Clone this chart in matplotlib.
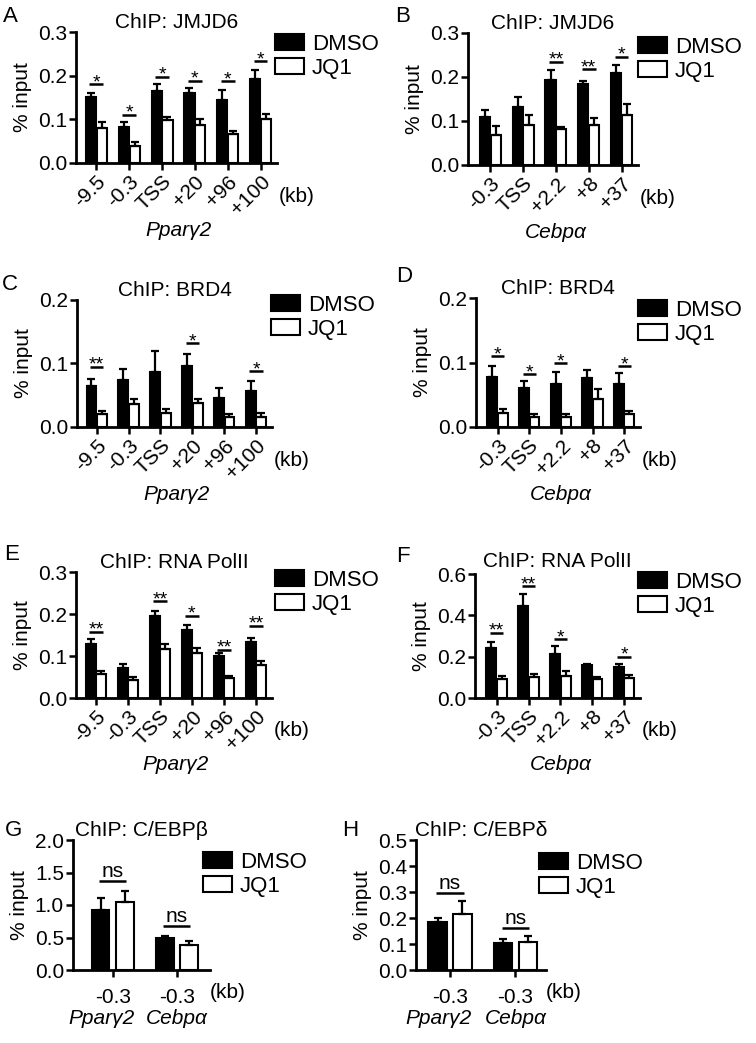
import numpy as np
import matplotlib
matplotlib.use("Agg")
import matplotlib.pyplot as plt
from matplotlib.patches import Patch
from matplotlib.ticker import FormatStrFormatter

plt.rcParams['font.family'] = ['Liberation Sans', 'DejaVu Sans']

W, H = 756, 1043

# --- data ---
# A: JMJD6 at Ppary2
a_labels = ['-9.5', '-0.3', 'TSS', '+20', '+96', '+100']
a_dmso = [0.151, 0.082, 0.164, 0.160, 0.144, 0.193]
a_dmso_err = [0.009, 0.011, 0.016, 0.012, 0.024, 0.019]
a_jq1 = [0.081, 0.040, 0.098, 0.087, 0.067, 0.100]
a_jq1_err = [0.014, 0.007, 0.007, 0.013, 0.007, 0.012]
a_sig = ['*', '*', '*', '*', '*', '*']
a_sig_y = [0.180, 0.110, 0.198, 0.188, 0.187, 0.233]

# B: JMJD6 at Cebpa
b_labels = ['-0.3', 'TSS', '+2.2', '+8', '+37']
b_dmso = [0.108, 0.131, 0.194, 0.185, 0.209]
b_dmso_err = [0.017, 0.023, 0.021, 0.006, 0.018]
b_jq1 = [0.069, 0.092, 0.081, 0.092, 0.114]
b_jq1_err = [0.019, 0.022, 0.006, 0.014, 0.024]
b_sig = ['', '', '**', '**', '*']
b_sig_y = [0, 0, 0.235, 0.218, 0.246]

# C: BRD4 at Ppary2
c_labels = a_labels
c_dmso = [0.064, 0.074, 0.087, 0.096, 0.046, 0.056]
c_dmso_err = [0.011, 0.017, 0.032, 0.019, 0.016, 0.016]
c_jq1 = [0.021, 0.036, 0.022, 0.038, 0.016, 0.015]
c_jq1_err = [0.004, 0.008, 0.006, 0.006, 0.004, 0.007]
c_sig = ['**', '', '', '*', '', '*']
c_sig_y = [0.095, 0, 0, 0.132, 0, 0.088]

# D: BRD4 at Cebpa
d_labels = b_labels
d_dmso = [0.077, 0.060, 0.066, 0.076, 0.066]
d_dmso_err = [0.018, 0.011, 0.020, 0.012, 0.018]
d_jq1 = [0.022, 0.016, 0.016, 0.043, 0.020]
d_jq1_err = [0.006, 0.004, 0.004, 0.016, 0.005]
d_sig = ['*', '*', '*', '', '*']
d_sig_y = [0.110, 0.082, 0.099, 0, 0.094]

# E: RNA PolII at Ppary2
e_labels = a_labels
e_dmso = [0.128, 0.072, 0.196, 0.163, 0.100, 0.133]
e_dmso_err = [0.012, 0.008, 0.012, 0.011, 0.008, 0.010]
e_jq1 = [0.058, 0.043, 0.117, 0.108, 0.048, 0.078]
e_jq1_err = [0.006, 0.008, 0.012, 0.010, 0.004, 0.010]
e_sig = ['**', '', '**', '*', '**', '**']
e_sig_y = [0.158, 0, 0.230, 0.196, 0.115, 0.172]

# F: RNA PolII at Cebpa
f_labels = b_labels
f_dmso = [0.240, 0.446, 0.215, 0.160, 0.150]
f_dmso_err = [0.032, 0.057, 0.035, 0.005, 0.015]
f_jq1 = [0.090, 0.100, 0.105, 0.090, 0.095]
f_jq1_err = [0.015, 0.018, 0.025, 0.012, 0.018]
f_sig = ['**', '**', '*', '', '*']
f_sig_y = [0.315, 0.540, 0.285, 0, 0.200]

# G: C/EBPb, H: C/EBPd at -0.3 kb of both genes
gh_labels = ['-0.3', '-0.3']
gh_genes = ['Pparγ2', 'Cebpα']
g_dmso = [0.93, 0.485]
g_dmso_err = [0.18, 0.04]
g_jq1 = [1.05, 0.38]
g_jq1_err = [0.16, 0.06]
g_sig = ['ns', 'ns']
g_sig_y = [1.37, 0.68]

h_dmso = [0.186, 0.105]
h_dmso_err = [0.014, 0.013]
h_jq1 = [0.215, 0.109]
h_jq1_err = [0.052, 0.022]
h_sig = ['ns', 'ns']
h_sig_y = [0.297, 0.163]

FS = 15
PT = 100 / 72.0  # px per point


def add_axes(l, t, r, b):
    return fig.add_axes([l / W, 1 - b / H, (r - l) / W, (b - t) / H])


def panel(rect, labels, dmso, dmso_err, jq1, jq1_err, sig, sig_y,
          ymax, ystep, title, letter, letter_xy, leg_xy, xlim,
          gene=None, off=0.165, width=0.31, rotate=True, title_pad=2):
    ax = add_axes(*rect)
    n = len(labels)
    x = np.arange(n)
    ax.bar(x - off, dmso, width, color='black', edgecolor='black', lw=1.5, zorder=2)
    ax.bar(x + off, jq1, width, color='white', edgecolor='black', lw=1.5, zorder=2)
    ax.errorbar(x - off, dmso, yerr=[np.zeros(n), dmso_err], fmt='none',
                ecolor='black', elinewidth=1.6, capsize=3, capthick=1.6, zorder=3)
    ax.errorbar(x + off, jq1, yerr=[np.zeros(n), jq1_err], fmt='none',
                ecolor='black', elinewidth=1.6, capsize=3, capthick=1.6, zorder=3)
    for xi, s, yy in zip(x, sig, sig_y):
        if not s:
            continue
        ax.plot([xi - 0.21, xi + 0.21], [yy, yy], color='black', lw=1.8,
                clip_on=False, solid_capstyle='butt')
        if s == 'ns':
            ax.annotate(s, xy=(xi, yy), xytext=(0, 4 / PT), textcoords='offset points',
                        ha='center', va='baseline', fontsize=FS)
        else:
            ax.annotate(s, xy=(xi, yy), xytext=(0, -3 / PT), textcoords='offset points',
                        ha='center', va='baseline', fontsize=14)
    ax.set_xlim(*xlim)
    ax.set_ylim(0, ymax)
    ax.set_yticks(np.arange(0, ymax + ystep / 2, ystep))
    ax.yaxis.set_major_formatter(FormatStrFormatter('%.1f'))
    ax.set_xticks(x)
    if rotate:
        ax.set_xticklabels(labels, rotation=45, ha='right', va='top',
                           rotation_mode='anchor')
    else:
        ax.set_xticklabels(labels)
    for sp in ['top', 'right']:
        ax.spines[sp].set_visible(False)
    for sp in ['left', 'bottom']:
        ax.spines[sp].set_linewidth(2)
    ax.tick_params(direction='out', length=5, width=1.8, labelsize=FS, pad=1.5)
    ax.set_ylabel('% input', fontsize=FS, labelpad=4)
    ax.set_title(title, fontsize=FS, pad=title_pad)
    fig.text(letter_xy[0] / W, 1 - letter_xy[1] / H, letter, fontsize=16,
             ha='center', va='center')
    handles = [Patch(facecolor='black', edgecolor='black', lw=1.5),
               Patch(facecolor='white', edgecolor='black', lw=1.5)]
    ax.legend(handles, ['DMSO', 'JQ1'], loc='upper left',
              bbox_to_anchor=(leg_xy[0] / W, 1 - leg_xy[1] / H),
              bbox_transform=fig.transFigure, frameon=False, fontsize=16,
              handlelength=1.3, handleheight=0.75, handletextpad=0.35,
              labelspacing=0.12, borderpad=0, borderaxespad=0)
    return ax


def below(ax, s, xd, dy_px, **kw):
    ax.annotate(s, xy=(xd, 0), xycoords=('data', 'axes fraction'),
                xytext=(0, -dy_px / PT), textcoords='offset points',
                ha=kw.pop('ha', 'center'), va='center', fontsize=FS,
                annotation_clip=False, **kw)


fig = plt.figure(figsize=(W / 100, H / 100), dpi=100)

xl6 = (-0.62, 5.5)
xl5 = (-0.68, 4.5)

ax = panel((76, 32, 277, 163), a_labels, a_dmso, a_dmso_err, a_jq1, a_jq1_err,
           a_sig, a_sig_y, 0.3, 0.1, 'ChIP: JMJD6', 'A', (10, 17), (275, 34), xl6)
below(ax, '(kb)', 5.55, 33, ha='left')
below(ax, 'Pparγ2', 2.5, 67, style='italic')

ax = panel((468, 33, 638, 165), b_labels, b_dmso, b_dmso_err, b_jq1, b_jq1_err,
           b_sig, b_sig_y, 0.3, 0.1, 'ChIP: JMJD6', 'B', (403, 16), (638, 37), xl5)
below(ax, '(kb)', 4.55, 33, ha='left')
below(ax, 'Cebpα', 2.0, 67, style='italic')

ax = panel((77, 300, 272, 427), c_labels, c_dmso, c_dmso_err, c_jq1, c_jq1_err,
           c_sig, c_sig_y, 0.2, 0.1, 'ChIP: BRD4', 'C', (10, 285), (271, 295), xl6)
below(ax, '(kb)', 5.55, 33, ha='left')
below(ax, 'Pparγ2', 2.5, 67, style='italic')

ax = panel((476, 298, 640, 427), d_labels, d_dmso, d_dmso_err, d_jq1, d_jq1_err,
           d_sig, d_sig_y, 0.2, 0.1, 'ChIP: BRD4', 'D', (404, 277), (638, 300), xl5)
below(ax, '(kb)', 4.55, 33, ha='left')
below(ax, 'Cebpα', 2.0, 67, style='italic')

ax = panel((76, 572, 272, 698), e_labels, e_dmso, e_dmso_err, e_jq1, e_jq1_err,
           e_sig, e_sig_y, 0.3, 0.1, 'ChIP: RNA PolII', 'E', (12, 554), (275, 570), xl6)
below(ax, '(kb)', 5.55, 33, ha='left')
below(ax, 'Pparγ2', 2.5, 67, style='italic')

ax = panel((475, 574, 640, 698), f_labels, f_dmso, f_dmso_err, f_jq1, f_jq1_err,
           f_sig, f_sig_y, 0.6, 0.2, 'ChIP: RNA PolII', 'F', (403, 556), (638, 572), xl5,
           title_pad=5)
below(ax, '(kb)', 4.55, 33, ha='left')
below(ax, 'Cebpα', 2.0, 67, style='italic')

ax = panel((73, 840, 210, 970), gh_labels, g_dmso, g_dmso_err, g_jq1, g_jq1_err,
           g_sig, g_sig_y, 2.0, 0.5, 'ChIP: C/EBPβ', 'G', (13, 831), (203, 852),
           (-0.62, 1.52), off=0.19, width=0.28, rotate=False)
ax.tick_params(axis='x', pad=8)
below(ax, '(kb)', 1.52, 23, ha='left')
for xi, g in enumerate(gh_genes):
    below(ax, g, xi - 0.17 * (1 - xi), 49, style='italic')

ax = panel((416, 840, 546, 970), gh_labels, h_dmso, h_dmso_err, h_jq1, h_jq1_err,
           h_sig, h_sig_y, 0.5, 0.1, 'ChIP: C/EBPδ', 'H', (350, 831), (539, 853),
           (-0.52, 1.47), off=0.19, width=0.28, rotate=False)
ax.tick_params(axis='x', pad=8)
below(ax, '(kb)', 1.47, 23, ha='left')
for xi, g in enumerate(gh_genes):
    below(ax, g, xi - 0.17 * (1 - xi), 49, style='italic')

fig.savefig('out.png', dpi=100)
